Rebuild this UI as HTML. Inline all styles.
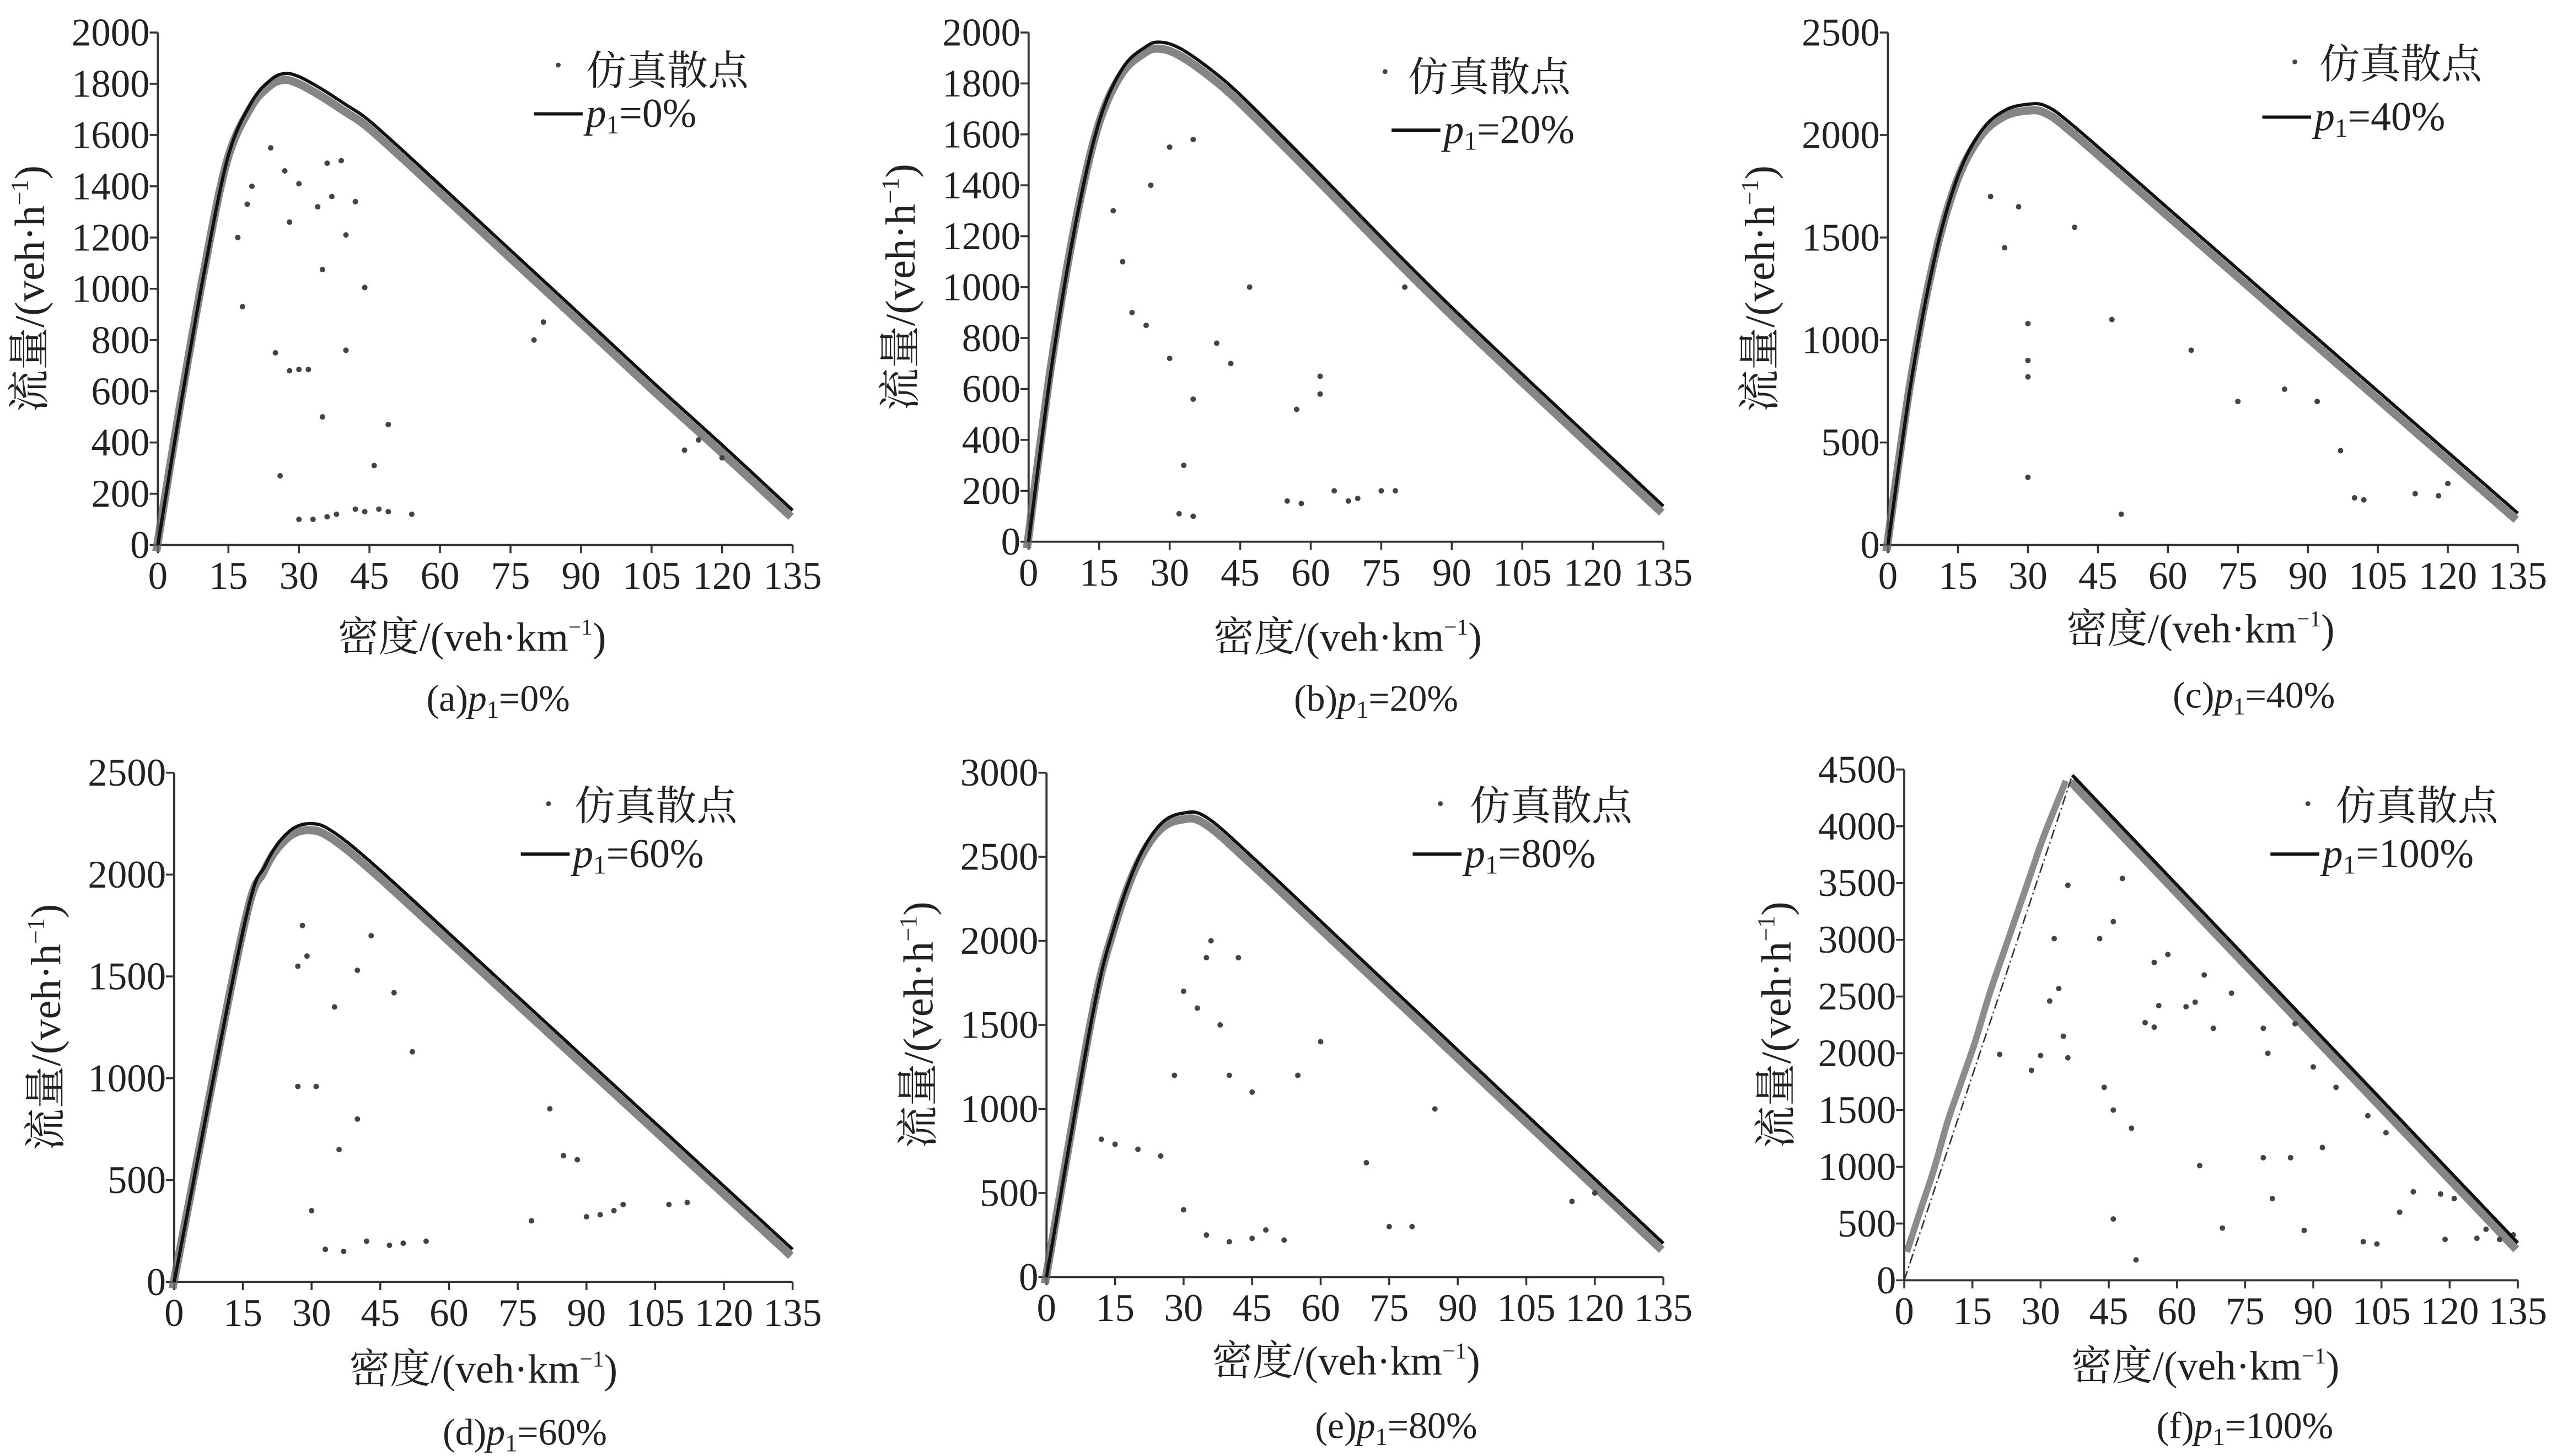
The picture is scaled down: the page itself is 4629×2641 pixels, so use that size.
<!DOCTYPE html>
<html><head><meta charset="utf-8"><style>
html,body{margin:0;padding:0;background:#fff;}
svg{display:block;}
svg text{font-family:"Liberation Serif","DejaVu Serif","Noto Serif CJK SC",serif;fill:#222;}
</style></head>
<body>
<svg id="fig" width="4629" height="2641" viewBox="0 0 1568 895" preserveAspectRatio="none" xmlns="http://www.w3.org/2000/svg"></svg>
<script>
// ---- data ----
const xTicks = [0,15,30,45,60,75,90,105,120,135];
const yTicksA = [0,200,400,600,800,1000,1200,1400,1600,1800,2000];
const yTicksC = [0,500,1000,1500,2000,2500];
const yTicksE = [0,500,1000,1500,2000,2500,3000];
const yTicksF = [0,500,1000,1500,2000,2500,3000,3500,4000,4500];
const curveA = [[0,0],[5,560],[10,1080],[15,1520],[20,1730],[24,1815],[27,1840],[30,1828],[35,1778],[40,1718],[45,1655],[55,1490],[65,1320],[75,1150],[88,930],[105,640],[120,390],[135,135]];
const curveB = [[0,0],[5,700],[10,1250],[15,1650],[20,1860],[25,1945],[28,1962],[32,1940],[38,1865],[45,1755],[60,1480],[90,920],[135,140]];
const curveC = [[0,0],[5,800],[10,1400],[15,1800],[20,2020],[25,2120],[30,2150],[34,2140],[40,2040],[60,1643],[90,1048],[135,155]];
const curveD = [[0,0],[15,1720],[20,2050],[25,2210],[30,2250],[35,2205],[45,2020],[65,1607],[100,883],[135,160]];
const curveE = [[0,0],[10,1550],[15,2100],[20,2480],[25,2695],[30,2760],[35,2735],[45,2500],[65,1989],[100,1094],[135,200]];
const curveF = [[37,4450],[135,330]];
const freeF = [[0,0],[37,4450]];
const outA = [[25,750],[28,680],[30,685],[32,685],[35,500],[40,760],[26,270],[46,310],[49,470],[30,100],[33,100],[36,110],[38,120],[42,140],[44,130],[47,140],[49,130],[54,120],[35,1075],[44,1005],[40,1210],[28,1260],[20,1400],[18,930],[37,1360],[42,1340],[34,1320],[27,1460],[30,1410],[24,1550],[80,800],[82,870],[112,370],[115,410],[120,340],[17,1200],[19,1330],[36,1490],[39,1500]];
const outB = [[20,1100],[22,900],[25,850],[30,720],[35,560],[40,780],[43,700],[33,300],[32,110],[35,100],[55,160],[58,150],[62,580],[65,200],[68,160],[70,170],[75,200],[78,200],[47,1000],[62,650],[80,1000],[57,520],[18,1300],[26,1400],[30,1550],[35,1580]];
const outC = [[30,1080],[30,900],[30,820],[30,330],[50,150],[48,1100],[65,950],[75,700],[85,760],[92,700],[97,460],[100,230],[102,220],[113,250],[118,240],[120,300],[25,1450],[40,1550],[22,1700],[28,1650]];
const outD = [[27,960],[31,960],[30,350],[33,160],[37,150],[42,200],[47,180],[50,190],[55,200],[78,300],[82,850],[85,620],[88,600],[90,320],[93,330],[96,350],[98,380],[108,380],[112,390],[28,1750],[35,1350],[40,1530],[43,1700],[48,1420],[52,1130],[36,650],[40,800],[27,1550],[29,1600]];
const outE = [[12,820],[15,790],[20,760],[25,720],[28,1200],[33,1600],[36,2000],[38,1500],[40,1200],[45,1100],[30,400],[35,250],[40,210],[45,230],[48,280],[52,220],[55,1200],[60,1400],[70,680],[75,300],[80,300],[85,1000],[115,450],[120,500],[30,1700],[35,1900],[42,1900]];
const outF = [[35,2150],[36,1960],[36,3480],[28,1850],[30,1980],[21,1990],[33,3010],[32,2460],[34,2570],[43,3010],[44,1700],[46,1500],[46,540],[50,1340],[51,180],[53,2270],[55,2230],[56,2420],[58,2870],[55,2800],[62,2410],[64,2450],[66,2690],[65,1010],[68,2220],[70,460],[72,2530],[79,2220],[80,2000],[81,720],[79,1080],[85,1080],[86,2260],[88,440],[90,1880],[92,1170],[95,1700],[101,340],[104,320],[102,1450],[106,1300],[109,600],[112,780],[118,760],[119,360],[121,720],[126,370],[128,450],[131,360],[134,400],[48,3540],[46,3160]];
const bandF = [[2,250],[5,620],[8,980],[11,1400],[14,1750],[17,2100],[20,2500],[23,2850],[26,3200],[29,3550],[32,3900],[35,4200],[37,4400]];

const NS="http://www.w3.org/2000/svg";
const svg=document.getElementById('fig');
function mk(tag,attrs,parent){const e=document.createElementNS(NS,tag);for(const k in attrs)e.setAttribute(k,attrs[k]);(parent||svg).appendChild(e);return e;}
function smooth(P){
  if(P.length<3) return 'M'+P.map(p=>p[0].toFixed(1)+','+p[1].toFixed(1)).join(' L');
  let d='M'+P[0][0].toFixed(1)+','+P[0][1].toFixed(1);
  for(let i=0;i<P.length-1;i++){
    const p0=P[Math.max(0,i-1)],p1=P[i],p2=P[i+1],p3=P[Math.min(P.length-1,i+2)];
    const c1=[p1[0]+(p2[0]-p0[0])/6,p1[1]+(p2[1]-p0[1])/6];
    const c2=[p2[0]-(p3[0]-p1[0])/6,p2[1]-(p3[1]-p1[1])/6];
    d+=' C'+c1.map(v=>v.toFixed(1)).join(',')+' '+c2.map(v=>v.toFixed(1)).join(',')+' '+p2[0].toFixed(1)+','+p2[1].toFixed(1);
  }
  return d;
}

const panels=[
 {id:'a',X0:97,X1:487,Y0:335,Y1:20,ymax:2000,yt:yTicksA,curve:curveA,out:outA,cap:'(a)',pct:'0%',leg:[343,40,360,52,328,70],xl:[290,400],cp:[262,437]},
 {id:'b',X0:632,X1:1022,Y0:333,Y1:20,ymax:2000,yt:yTicksA,curve:curveB,out:outB,cap:'(b)',pct:'20%',leg:[851,44,865,56,855,80],xl:[828,400],cp:[795,437]},
 {id:'c',X0:1160,X1:1547,Y0:335,Y1:20,ymax:2500,yt:yTicksC,curve:curveC,out:outC,cap:'(c)',pct:'40%',leg:[1410,38,1425,48,1390,72],xl:[1352,395],cp:[1335,435]},
 {id:'d',X0:107,X1:487,Y0:788,Y1:475,ymax:2500,yt:yTicksC,curve:curveD,out:outD,cap:'(d)',pct:'60%',leg:[337,494,353,504,320,525],xl:[297,850],cp:[272,888]},
 {id:'e',X0:643,X1:1022,Y0:785,Y1:475,ymax:3000,yt:yTicksE,curve:curveE,out:outE,cap:'(e)',pct:'80%',leg:[885,494,903,504,868,525],xl:[827,845],cp:[808,884]},
 {id:'f',X0:1170,X1:1547,Y0:787,Y1:473,ymax:4500,yt:yTicksF,curve:curveF,out:outF,cap:'(f)',pct:'100%',leg:[1418,494,1435,504,1395,525],xl:[1355,848],cp:[1325,884]}
];

panels.forEach(p=>{
  const g=mk('g',{});
  
  
  const sx=k=>p.X0+(p.X1-p.X0)*k/135;
  const sy=q=>p.Y0-(p.Y0-p.Y1)*q/p.ymax;
  const scr=arr=>arr.map(d=>[sx(d[0]),sy(d[1])]);
  const xa=mk('line',{x1:p.X0,y1:p.Y0,x2:p.X1,y2:p.Y0,stroke:'#333','stroke-width':1.3},g);
  
  
  const ya=mk('line',{x1:p.X0,y1:p.Y0,x2:p.X0,y2:p.Y1,stroke:'#333','stroke-width':1.3},g);
  
  
  xTicks.forEach(t=>{
    mk('line',{x1:sx(t),y1:p.Y0,x2:sx(t),y2:p.Y0+5,stroke:'#333','stroke-width':1.2},g);
    const tx=mk('text',{x:sx(t),y:p.Y0+27,'font-size':24,'text-anchor':'middle'},g);
    tx.textContent=t;
    
    
  });
  p.yt.forEach(t=>{
    mk('line',{x1:p.X0-5,y1:sy(t),x2:p.X0,y2:sy(t),stroke:'#333','stroke-width':1.2},g);
    const tx=mk('text',{x:p.X0-5,y:sy(t)+8,'font-size':24,'text-anchor':'end'},g);
    tx.textContent=t;
    
    
  });
  const bandPath=smooth(scr(p.curve));
  const band=mk('path',{d:bandPath,fill:'none',stroke:'#666','stroke-opacity':0.8,'stroke-width':5,transform:'translate(-1,4)'},g);
  
  
  if(p.id==='f'){
    const bf=mk('path',{d:smooth(scr(bandF)),fill:'none',stroke:'#666','stroke-opacity':0.75,'stroke-width':4,transform:'translate(-4,0)'},g);
    
    
    const fl=mk('path',{d:smooth(scr(freeF)),fill:'none',stroke:'#333','stroke-width':0.9,'stroke-dasharray':'6 2 1 2'},g);
    
    
  }
  p.out.forEach(d=>{
    const c=mk('circle',{cx:sx(d[0]),cy:sy(d[1]),r:1.7,fill:'#444'},g);
    
    
  });
  const cl=mk('path',{d:bandPath,fill:'none',stroke:'#111','stroke-width':2,'stroke-linejoin':'round'},g);
  
  
  const L=p.leg;
  const ld=mk('circle',{cx:L[0],cy:L[1],r:1.5,fill:'#444'},g);
  
  
  const lt=mk('text',{x:L[2],y:L[3],'font-size':25},g);
  lt.textContent='仿真散点';
  
  
  const ll=mk('line',{x1:L[4],y1:L[5],x2:L[4]+30,y2:L[5],stroke:'#111','stroke-width':2},g);
  
  
  const lt2=mk('text',{x:L[4]+32,y:L[5]+8,'font-size':25},g);
  lt2.innerHTML='<tspan font-style="italic">p</tspan><tspan font-size="16" dy="4">1</tspan><tspan dy="-4">='+p.pct+'</tspan>';
  
  
  const xt=mk('text',{x:p.xl[0],y:p.xl[1],'font-size':25,'text-anchor':'middle'},g);
  xt.innerHTML='密度/(veh·km<tspan font-size="14" dy="-10">−1</tspan><tspan dy="10">)</tspan>';
  
  
  const yc=(p.Y0+p.Y1)/2;
  const yx=p.X0-70;
  const yt=mk('text',{x:yx,y:yc,'font-size':26,'text-anchor':'middle',transform:'rotate(-90 '+yx+' '+yc+')'},g);
  yt.innerHTML='流量/(veh·h<tspan font-size="15" dy="-10">−1</tspan><tspan dy="10">)</tspan>';
  
  
  const ct=mk('text',{x:p.cp[0],y:p.cp[1],'font-size':23},g);
  ct.innerHTML=p.cap+'<tspan font-style="italic">p</tspan><tspan font-size="15" dy="4">1</tspan><tspan dy="-4">='+p.pct+'</tspan>';
  
  
});
</script>
</body></html>
